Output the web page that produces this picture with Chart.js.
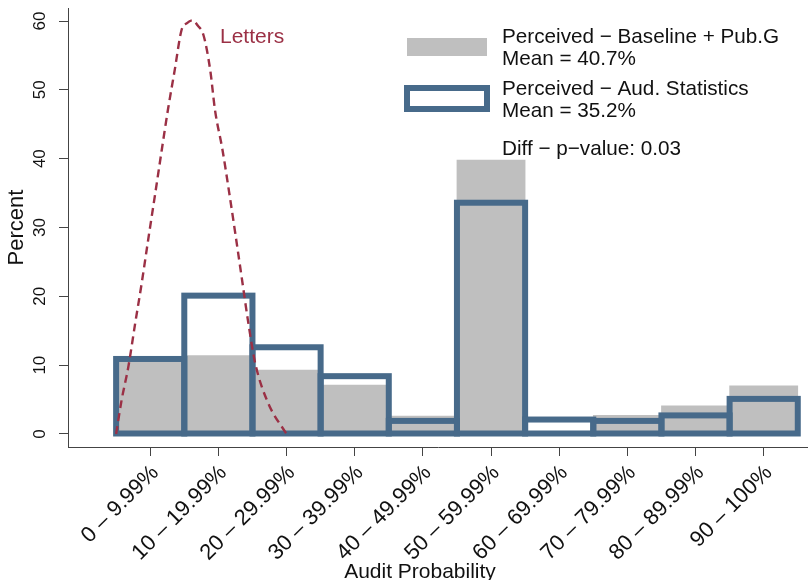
<!DOCTYPE html>
<html lang="en">
<head>
<meta charset="UTF-8">
<title>Audit Probability</title>
<script src="https://cdn.jsdelivr.net/npm/chart.js"></script>
<style>
  html, body { margin: 0; padding: 0; background: #fff; }
</style>
</head>
<body>
<canvas id="histChart" width="808" height="580"></canvas>
<script>
// bins of the audit probability (mid point of each bin, in %)
const binLabels = ['0 – 9.99%', '10 – 19.99%', '20 – 29.99%', '30 – 39.99%', '40 – 49.99%',
                   '50 – 59.99%', '60 – 69.99%', '70 – 79.99%', '80 – 89.99%', '90 – 100%'];
const binMids = [5, 15, 25, 35, 45, 55, 65, 75, 85, 95];

// percent of respondents per bin
const baselinePct = [10.6, 11.4, 9.3, 7.1, 2.6, 39.8, 0, 2.7, 4.1, 7.0];   // Baseline + Pub.G (grey)
const audStatsPct = [10.9, 20.1, 12.6, 8.4, 1.9, 33.6, 2.1, 1.9, 2.7, 5.1]; // Aud. Statistics (outline)

// "Letters" density curve
const lettersX = [0, 0.8, 1.8, 2.8, 3.75, 4.7, 5.7, 6.7, 7.6, 8.6, 9.6, 10.4, 11.2, 12.0, 12.8,
                  13.8, 14.5, 15.6, 16.6, 17.4, 18.4, 19.4, 20.4, 22.3, 24.8, 25.0];
const lettersY = [0, 4.9, 9.8, 16.1, 21.9, 28.2, 34.7, 41.3, 47.1, 52.9, 58.7, 59.7, 60.1, 59.3, 58.0,
                  52.9, 47.1, 41.3, 35.0, 29.7, 22.9, 16.1, 10.3, 4.5, 0.3, 0];

const yTicks = [0, 10, 20, 30, 40, 50, 60];

const GREY = '#bfbfbf';
const BLUE = '#476a8a';
const RED = '#9b3045';
const FONT = '"Liberation Sans", Arial, sans-serif';

// outline the Aud. Statistics bars with a stroke centred on the bar edges (Stata style)
const outlinePlugin = {
    id: 'barOutline',
    afterDatasetDraw(chart, args) {
        if (args.index !== 1) return;
        const ctx = chart.ctx;
        ctx.save();
        ctx.strokeStyle = BLUE;
        ctx.lineWidth = 6;
        args.meta.data.forEach(bar => {
            const p = bar.getProps(['x', 'y', 'base', 'width'], true);
            ctx.strokeRect(p.x - p.width / 2, p.y, p.width, p.base - p.y);
        });
        ctx.restore();
    }
};

// legend box, curve label and x title
const legendPlugin = {
    id: 'sideLegend',
    afterDraw(chart) {
        const ctx = chart.ctx;
        ctx.save();
        ctx.fillStyle = GREY;
        ctx.fillRect(407, 38, 80, 18);
        ctx.strokeStyle = BLUE;
        ctx.lineWidth = 6;
        ctx.strokeRect(407, 88, 80, 21);

        ctx.font = '20.7px ' + FONT;
        ctx.fillStyle = '#111';
        ctx.textBaseline = 'alphabetic';
        ctx.fillText('Perceived − Baseline + Pub.G', 502, 43);
        ctx.fillText('Mean = 40.7%', 502, 65);
        ctx.fillText('Perceived − Aud. Statistics', 502, 95);
        ctx.fillText('Mean = 35.2%', 502, 117);
        ctx.fillText('Diff − p−value: 0.03', 502, 155);

        ctx.font = '21px ' + FONT;
        ctx.textAlign = 'center';
        ctx.fillText('Audit Probability', 420, 578);

        ctx.textAlign = 'left';
        ctx.fillStyle = RED;
        ctx.fillText('Letters', 220, 43);
        ctx.restore();
    }
};

const ctx = document.getElementById('histChart').getContext('2d');
const histChart = new Chart(ctx, {
    type: 'bar',
    data: {
        datasets: [
            {
                label: 'Perceived - Baseline + Pub.G',
                data: binMids.map((x, i) => ({ x: x, y: baselinePct[i] })),
                backgroundColor: GREY,
                borderWidth: 0,
                grouped: false,
                barPercentage: 1,
                categoryPercentage: 1,
                order: 3
            },
            {
                label: 'Perceived - Aud. Statistics',
                data: binMids.map((x, i) => ({ x: x, y: audStatsPct[i] })),
                backgroundColor: 'rgba(0,0,0,0)',
                borderWidth: 0,
                grouped: false,
                barPercentage: 1,
                categoryPercentage: 1,
                order: 2
            },
            {
                type: 'line',
                label: 'Letters',
                data: lettersX.map((x, i) => ({ x: x, y: lettersY[i] })),
                borderColor: RED,
                borderWidth: 2.4,
                borderDash: [8, 5],
                pointRadius: 0,
                cubicInterpolationMode: 'monotone',
                fill: false,
                order: 1
            }
        ]
    },
    options: {
        responsive: false,
        animation: false,
        layout: { padding: { top: 8, left: 0, right: 0, bottom: 0 } },
        plugins: {
            legend: { display: false },
            tooltip: { enabled: false }
        },
        scales: {
            x: {
                type: 'linear',
                min: -7.06,
                max: 101.5,
                offset: false,
                grid: { display: true, offset: false, drawOnChartArea: false, drawTicks: true, tickLength: 9, color: '#444' },
                border: { display: true, color: '#444', width: 1 },
                afterBuildTicks: s => { s.ticks = binMids.map(v => ({ value: v })); },
                afterFit: s => { s.height = 133; s.paddingLeft = 0; s.paddingRight = 0; },
                ticks: {
                    autoSkip: false,
                    minRotation: 45,
                    maxRotation: 45,
                    padding: 4,
                    labelOffset: 5,
                    color: '#111',
                    font: { family: FONT, size: 22 },
                    callback: (v, i) => binLabels[i]
                },
                title: { display: false }
            },
            y: {
                min: -1.89,
                max: 61.89,
                grid: { display: true, offset: false, drawOnChartArea: false, drawTicks: true, tickLength: 9, color: '#444' },
                border: { display: true, color: '#444', width: 1 },
                afterBuildTicks: s => { s.ticks = yTicks.map(v => ({ value: v })); },
                afterFit: s => { s.width = 68; s.paddingTop = 0; s.paddingBottom = 0; },
                ticks: {
                    minRotation: 90,
                    maxRotation: 90,
                    crossAlign: 'center',
                    padding: 9,
                    color: '#111',
                    font: { family: FONT, size: 17 }
                },
                title: {
                    display: true,
                    text: 'Percent',
                    color: '#111',
                    font: { family: FONT, size: 22 },
                    padding: { top: 4, bottom: 0 }
                }
            }
        }
    },
    plugins: [outlinePlugin, legendPlugin]
});
</script>
</body>
</html>
